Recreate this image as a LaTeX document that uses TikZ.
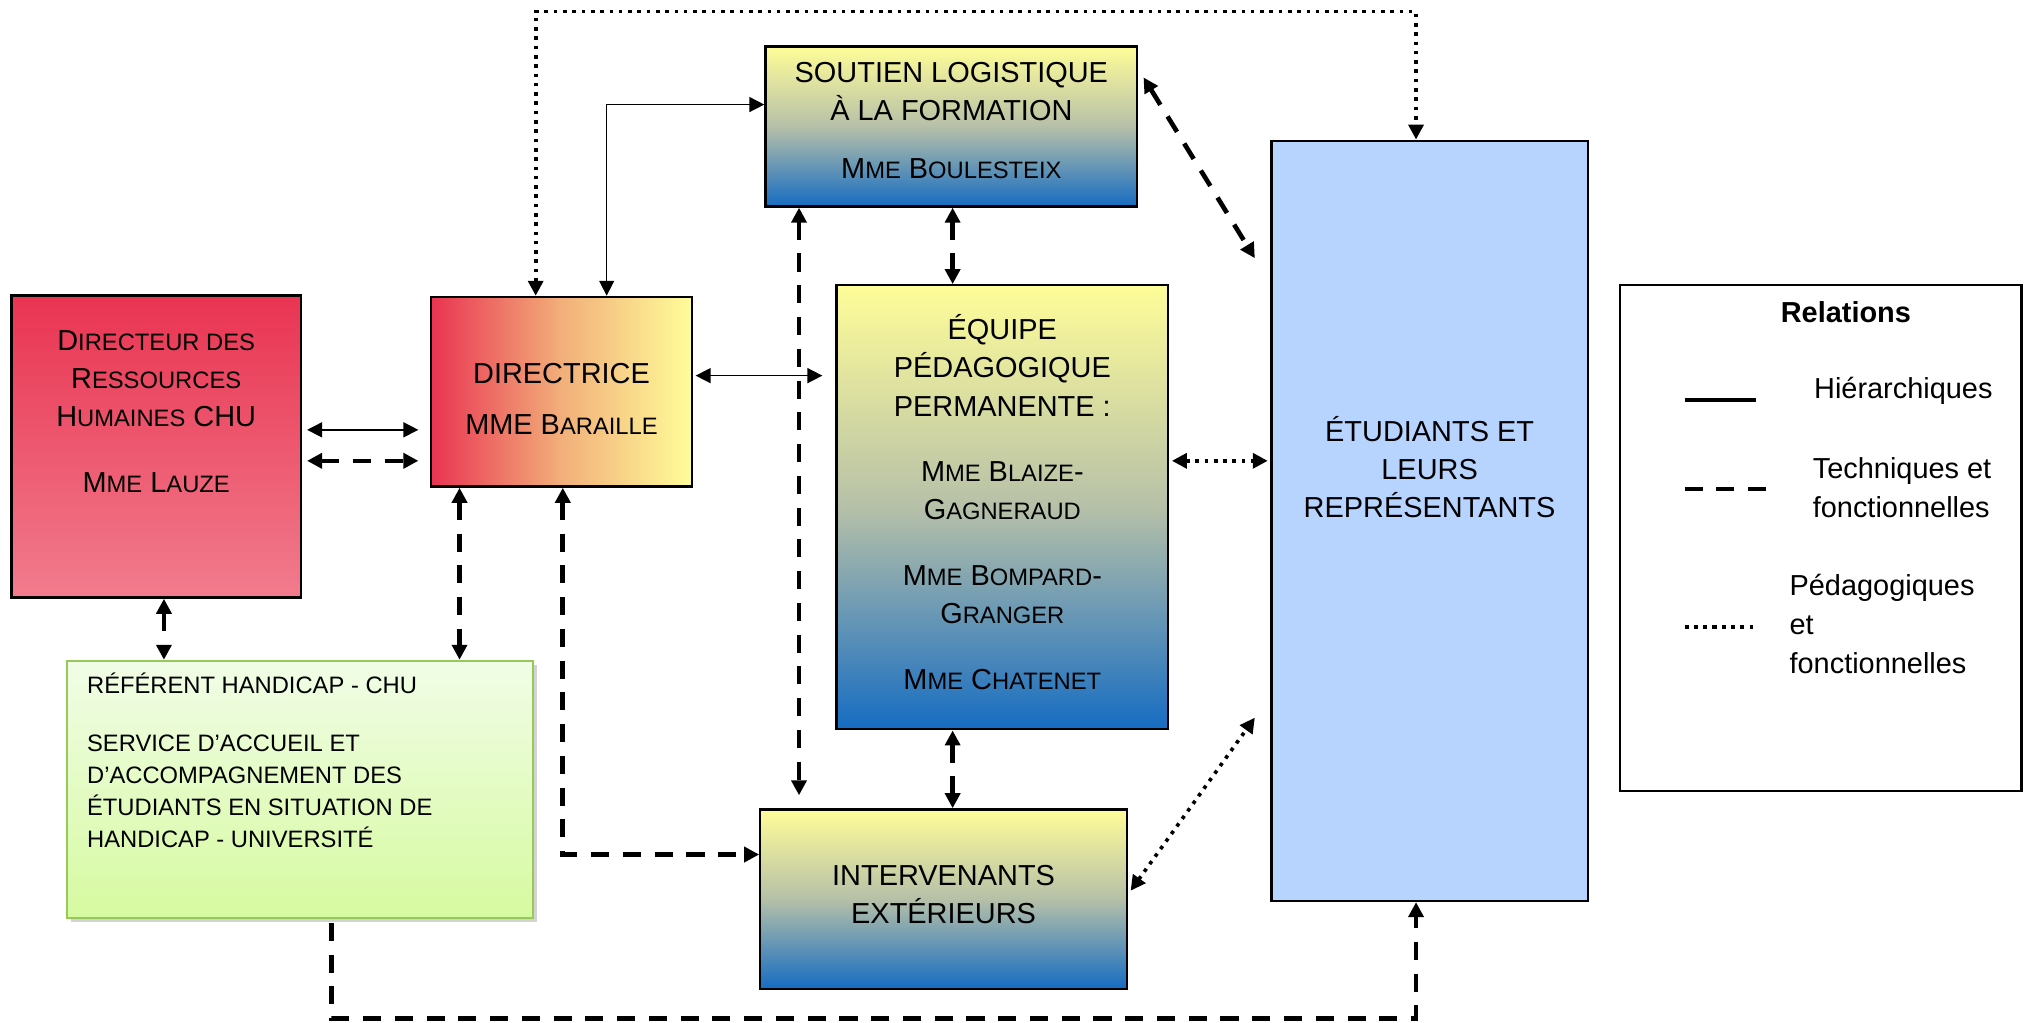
\documentclass[tikz,border=0pt]{standalone}
\usepackage{fontspec}
\setmainfont{Liberation Sans}
\usetikzlibrary{arrows.meta, shadows}

\definecolor{rougeA}{RGB}{233,52,82}
\definecolor{roseA}{RGB}{241,124,141}
\definecolor{orangeA}{RGB}{242,175,122}
\definecolor{jauneA}{RGB}{255,253,153}
\definecolor{grisA}{RGB}{182,192,168}
\definecolor{bleuA}{RGB}{22,108,194}
\definecolor{bleuC}{RGB}{182,212,255}
\definecolor{vertA}{RGB}{241,253,231}
\definecolor{vertB}{RGB}{214,250,160}
\definecolor{vertC}{RGB}{150,200,90}

% petites capitales
\newcommand\pc[1]{{\fontsize{9.2}{14.75}\selectfont #1}}

\begin{document}
\begin{tikzpicture}[x=0.5pt, y=-0.5pt,
  >={Triangle[length=5.8pt,width=5.8pt]},
  box/.style={draw=black, line width=0.9pt, inner sep=0pt},
  txt/.style={inner sep=0pt, align=center, font=\fontsize{11.2}{14.75}\selectfont},
  jauneBleu/.style={top color=jauneA, bottom color=bleuA, middle color=grisA},
  hier/.style={line width=0.6pt, <->},
  tech/.style={line width=1.8pt, dash pattern=on 7pt off 5.3pt, <->},
  peda/.style={line width=1.4pt, dash pattern=on 1.4pt off 2.2pt, <->}]
\useasboundingbox (0,0) rectangle (1568,792);
% Boxes
\node[box, minimum width=112pt, minimum height=117pt, top color=rougeA, bottom color=roseA] (drh) at (121,346) {};
\node[box, minimum width=101pt, minimum height=73.5pt, left color=rougeA, right color=jauneA, middle color=orangeA] (dir) at (435,303.5) {};
\node[box, jauneBleu, minimum width=144pt, minimum height=62pt] (sout) at (737,98) {};
\node[box, jauneBleu, minimum width=128.5pt, minimum height=172pt] (equ) at (776.5,393) {};
\node[box, jauneBleu, minimum width=142pt, minimum height=69.5pt] (inter) at (731,696.5) {};
\node[box, fill=bleuC, minimum width=122.5pt, minimum height=294.5pt] (etu) at (1107.5,403.5) {};
\node[box, draw=vertC, top color=vertA, bottom color=vertB, drop shadow={shadow xshift=1.5pt, shadow yshift=-1.5pt, opacity=.35}, minimum width=180.5pt, minimum height=99.5pt] (ref) at (232.5,611.5) {};
\node[box, fill=white, minimum width=155.5pt, minimum height=196pt] (leg) at (1410.5,417) {};
% Texts
\node[txt] (drh-t) at ([yshift=13.5pt]drh.center) {D\pc{IRECTEUR DES}\\R\pc{ESSOURCES}\\H\pc{UMAINES} CHU\\[10.75pt]M\pc{ME} L\pc{AUZE}};
\node[txt] (dir-t) at ([yshift=-2.75pt]dir.center) {DIRECTRICE\\[5.25pt]MME B\pc{ARAILLE}};
\node[txt] (sout-t) at ([yshift=2.25pt]sout.center) {SOUTIEN LOGISTIQUE\\À LA FORMATION\\[7.5pt]M\pc{ME} B\pc{OULESTEIX}};
\node[txt] (equ-t) at ([yshift=1.9pt]equ.center) {ÉQUIPE\\PÉDAGOGIQUE\\PERMANENTE :\\[10.75pt]M\pc{ME} B\pc{LAIZE}-\\G\pc{AGNERAUD}\\[10.75pt]M\pc{ME} B\pc{OMPARD}-\\G\pc{RANGER}\\[10.75pt]M\pc{ME} C\pc{HATENET}};
\node[txt] (inter-t) at ([yshift=1.75pt]inter.center) {INTERVENANTS\\EXTÉRIEURS};
\node[txt] (etu-t) at ([yshift=20.9pt]etu.center) {ÉTUDIANTS ET\\LEURS\\REPRÉSENTANTS};
\node[txt, align=left, anchor=west, font=\fontsize{9.2}{12.35}\selectfont] (ref-t) at ([shift={(8pt,11.25pt)}]ref.west) {RÉFÉRENT HANDICAP - CHU\\[10.15pt]SERVICE D’ACCUEIL ET\\D’ACCOMPAGNEMENT DES\\ÉTUDIANTS EN SITUATION DE\\HANDICAP - UNIVERSITÉ};
% Legend
\node[inner sep=0pt, font=\bfseries\fontsize{11.2}{14}\selectfont] (leg-titre) at (1430,242) {Relations};
\coordinate (lh1) at (1305,310);
\coordinate (lh2) at (1360,310);
\coordinate (lt1) at (1305,379);
\coordinate (lt2) at (1368,379);
\coordinate (lp1) at (1305,486);
\coordinate (lp2) at (1358,486);
\draw[line width=1.4pt] (lh1) -- (lh2);
\draw[line width=1.6pt, dash pattern=on 7pt off 5.3pt] (lt1) -- (lt2);
\draw[line width=1.6pt, dash pattern=on 1.6pt off 2pt] (lp1) -- (lp2);
\node[txt, align=left, anchor=west] (leg-h) at (1405,303) {Hiérarchiques};
\node[txt, align=left, anchor=west, font=\fontsize{11.2}{15}\selectfont] (leg-t) at (1404,378) {Techniques et\\fonctionnelles};
\node[txt, align=left, anchor=west, font=\fontsize{11.2}{15}\selectfont] (leg-p) at (1386,483.5) {Pédagogiques\\et\\fonctionnelles};
% DRH <-> Directrice
\coordinate (a1) at ([yshift=6.5pt]drh.east);
\coordinate (a2) at ([yshift=-5.5pt]drh.east);
\draw[hier, shorten <=2pt, shorten >=4.5pt] (a1) -- (a1 -| dir.west);
\draw[tech, shorten <=2pt, shorten >=4.5pt] (a2) -- (a2 -| dir.west);
% down to the referent
\coordinate (b1) at ([xshift=3pt]drh.south);
\coordinate (b2) at ([xshift=-39.5pt]dir.south);
\draw[tech] (b1) -- (b1 |- ref.north);
\draw[tech] (b2) -- (b2 |- ref.north);
% Directrice <-> Intervenants
\coordinate (b3) at ([xshift=0.5pt]dir.south);
\coordinate (c3) at ([yshift=17.25pt]inter.west);
\draw[tech] (b3) |- (c3);
% Directrice <-> Soutien
\coordinate (b4) at ([xshift=17.5pt]dir.north);
\coordinate (c4) at ([yshift=8.5pt]sout.west);
\draw[hier] (b4) |- (c4);
% Directrice <-> Equipe
\coordinate (b5) at ([yshift=6.25pt]dir.east);
\draw[hier, shorten <=1pt, shorten >=5pt] (b5) -- (b5 -| equ.west);
% Directrice <-> Etudiants, over the top
\coordinate (b6) at ([xshift=-10pt]dir.north);
\coordinate (c6) at ([xshift=-5.25pt]etu.north);
\coordinate (plafond) at (0,9);
\draw[peda] (b6) -- (b6 |- plafond) -| (c6);
% Soutien
\coordinate (d1) at ([xshift=-59pt]sout.south);
\coordinate (d2) at ([xshift=0.5pt]sout.south);
\coordinate (d3) at ([shift={(2pt,19pt)}]sout.east);
\coordinate (e3) at ([shift={(-6pt,101.75pt)}]etu.west);
\draw[tech, shorten >=5pt] (d1) -- (d1 |- inter.north);
\draw[tech] (d2) -- (d2 |- equ.north);
\draw[tech] (d3) -- (e3);
% Equipe
\coordinate (f1) at ([yshift=18pt]equ.east);
\coordinate (f2) at ([xshift=-19.25pt]equ.south);
\draw[peda, shorten <=1pt, shorten >=1pt] (f1) -- (f1 -| etu.west);
\draw[tech] (f2) -- (f2 |- inter.north);
% Intervenants <-> Etudiants
\coordinate (g1) at ([shift={(1pt,3.25pt)}]inter.east);
\coordinate (e4) at ([shift={(-6pt,-76.25pt)}]etu.west);
\draw[peda] (g1) -- (e4);
% Referent -> Etudiants, along the bottom
\coordinate (h1) at ([xshift=12.25pt]ref.south);
\coordinate (h2) at ([xshift=-5.25pt]etu.south);
\coordinate (sol) at (0,789);
\draw[tech, ->, shorten <=1.5pt] (h1) -- (h1 |- sol) -| (h2);
\end{tikzpicture}
\end{document}
